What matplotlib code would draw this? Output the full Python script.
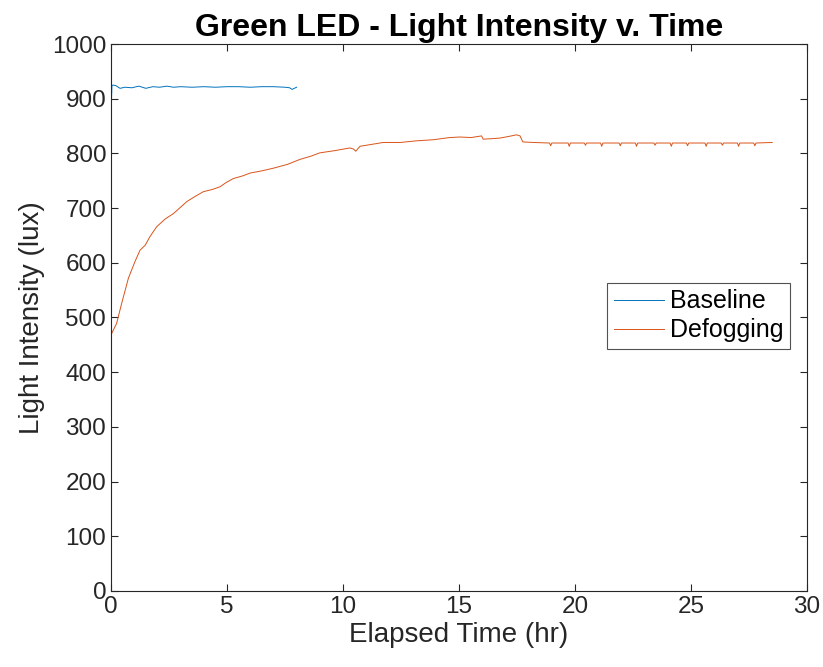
import matplotlib.pyplot as plt

plt.rcParams['font.family'] = ['Liberation Sans', 'DejaVu Sans']

# Baseline run (hr, lux)
base_t = [0.0, 0.04, 0.08, 0.2, 0.39, 0.6, 0.9, 1.2, 1.5, 1.8, 2.1, 2.4, 2.7,
          3.0, 3.5, 4.0, 4.5, 5.0, 5.5, 6.0, 6.5, 7.0, 7.5, 7.7, 7.8, 7.9, 8.0]
base_v = [872, 924, 925, 924, 919, 921, 920, 923, 919, 922, 921, 923, 921,
          922, 921, 922, 921, 922, 922, 921, 922, 922, 921, 920, 917, 919, 921]

# Defogging run (hr, lux)
defog_t = [0.0, 0.03, 0.24, 0.46, 0.75, 1.03, 1.25, 1.47, 1.68, 1.97, 2.33,
           2.69, 3.27, 3.65, 3.98, 4.36, 4.7, 4.97, 5.27, 5.68, 5.99, 6.49,
           7.0, 7.61, 8.14, 8.62, 9.0, 9.63, 10.3, 10.45, 10.55, 10.65, 10.73,
           11.16, 11.73, 12.47, 13.17, 13.89, 14.6, 15.04, 15.52, 15.97, 16.04,
           16.43, 16.76, 17.14, 17.48, 17.63, 17.75, 18.2,
           18.9, 18.95, 19.0, 19.7, 19.75, 19.8, 20.4, 20.45, 20.5,
           21.1, 21.15, 21.2, 21.9, 21.95, 22.0, 22.6, 22.65, 22.7,
           23.4, 23.45, 23.5, 24.1, 24.15, 24.2, 24.8, 24.85, 24.9,
           25.6, 25.65, 25.7, 26.3, 26.35, 26.4, 27.0, 27.05, 27.1,
           27.7, 27.75, 27.8, 28.5]
defog_v = [465, 471, 489, 526, 572, 602, 623, 632, 648, 666, 680,
           690, 712, 722, 730, 734, 739, 747, 754, 759, 764, 768,
           773, 780, 789, 795, 801, 805, 810, 808, 804, 809, 813,
           816, 820, 820, 823, 825, 829, 830, 829, 832, 826,
           827, 828, 831, 834, 832, 821, 820,
           819, 814, 819, 819, 813, 819, 819, 815, 819,
           819, 813, 819, 819, 814, 819, 819, 813, 819,
           819, 815, 819, 819, 813, 819, 819, 814, 819,
           819, 813, 819, 819, 815, 819, 819, 813, 819,
           819, 814, 819, 820]

fig = plt.figure(figsize=(8.23, 6.67), dpi=100)
ax = fig.add_axes([0.1349, 0.114, 0.8457, 0.820])

ax.plot(base_t, base_v, color='#0072BD', linewidth=0.7, label='Baseline')
ax.plot(defog_t, defog_v, color='#D95319', linewidth=0.7, label='Defogging')

ax.set_xlim(0, 30)
ax.set_ylim(0, 1000)
ax.set_xticks(range(0, 31, 5))
ax.set_yticks(range(0, 1001, 100))
ax.tick_params(direction='in', top=True, right=True, labelsize=17.5,
               colors='#262626', length=5, width=0.8)
for s in ax.spines.values():
    s.set_color('#262626')
    s.set_linewidth(0.8)

ax.set_xlabel('Elapsed Time (hr)', fontsize=20, color='#262626', labelpad=3)
ax.set_ylabel('Light Intensity (lux)', fontsize=20, color='#262626', labelpad=5)
ax.set_title('Green LED - Light Intensity v. Time', fontsize=23,
             fontweight='bold', pad=6)

leg = ax.legend(loc='upper left', bbox_to_anchor=(0.713, 0.563), fontsize=18,
                frameon=True, fancybox=False, edgecolor='#262626',
                handlelength=2.0, handletextpad=0.25, borderpad=0.25,
                labelspacing=0.2, borderaxespad=0)
leg.get_frame().set_linewidth(0.8)

fig.savefig('out.png', dpi=100)
